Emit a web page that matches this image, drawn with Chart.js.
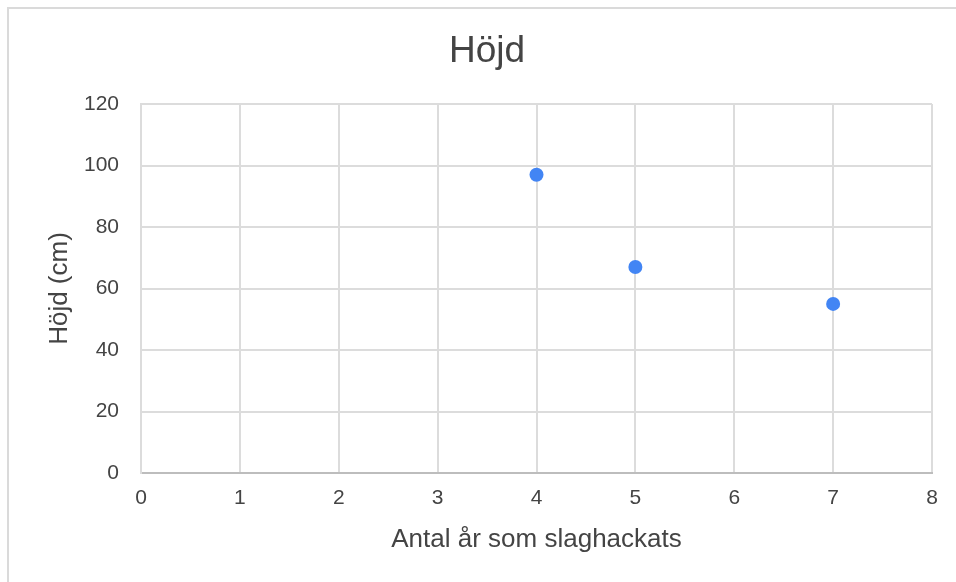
<!DOCTYPE html>
<html lang="sv">
<head>
<meta charset="utf-8">
<title>Höjd</title>
<script src="https://cdn.jsdelivr.net/npm/chart.js@4"></script>
<style>
  html, body { margin: 0; padding: 0; background: #fff; }
  #wrap { position: relative; width: 956px; height: 582px; overflow: hidden; }
  #frame {
    position: absolute; left: 7px; top: 7px; right: -10px; bottom: -10px;
    border-left: 2px solid #dadada; border-top: 2px solid #dadada;
  }
  #c { position: absolute; left: 0; top: 0; }
</style>
</head>
<body>
<div id="wrap">
  <div id="frame"></div>
  <canvas id="c" width="956" height="582"></canvas>
</div>
<script>
// Years of scything vs. plant height
const chartTitle = 'Höjd';
const xAxisTitle = 'Antal år som slaghackats';
const yAxisTitle = 'Höjd (cm)';
const yearsCut = [4, 5, 7];
const heightCm = [97, 67, 55];
const xTickLimits = [0, 8, 1];     // min, max, step
const yTickLimits = [0, 120, 20];  // min, max, step

const points = yearsCut.map((x, i) => ({ x: x, y: heightCm[i] }));

const FONT = "'Liberation Sans', Arial, sans-serif";
const TEXT = '#444444';
const GRID = '#dcdcdc';

new Chart(document.getElementById('c'), {
  type: 'scatter',
  data: {
    datasets: [{
      label: yAxisTitle,
      data: points,
      backgroundColor: '#4285f4',
      borderColor: '#4285f4',
      pointRadius: 7,
      pointHoverRadius: 7,
      borderWidth: 0
    }]
  },
  options: {
    responsive: false,
    animation: false,
    layout: { padding: { left: 42, right: 24, top: 0, bottom: 0 } },
    plugins: {
      legend: { display: false },
      tooltip: { enabled: false },
      title: {
        display: true,
        text: chartTitle,
        color: TEXT,
        font: { family: FONT, size: 37, weight: 'normal' },
        padding: { top: 30, bottom: 29.6 }
      }
    },
    scales: {
      x: {
        type: 'linear',
        min: xTickLimits[0],
        max: xTickLimits[1],
        ticks: {
          stepSize: xTickLimits[2],
          color: TEXT,
          padding: 13,
          font: { family: FONT, size: 21 }
        },
        grid: { color: GRID, lineWidth: 2, drawTicks: false },
        border: { color: '#bdbdbd', width: 2 },
        title: {
          display: true,
          text: xAxisTitle,
          color: TEXT,
          font: { family: FONT, size: 26 },
          padding: { top: 0, bottom: 26.4 }
        },
        afterFit: (scale) => { scale.height = 109; }
      },
      y: {
        min: yTickLimits[0],
        max: yTickLimits[1],
        ticks: {
          stepSize: yTickLimits[2],
          color: TEXT,
          padding: 22,
          font: { family: FONT, size: 21 }
        },
        grid: { color: GRID, lineWidth: 2, drawTicks: false },
        border: { color: GRID, width: 2 },
        title: {
          display: true,
          text: yAxisTitle,
          color: TEXT,
          font: { family: FONT, size: 26 },
          padding: { top: 2.4, bottom: 0 }
        },
        afterFit: (scale) => { scale.width = 99; }
      }
    }
  }
});
</script>
</body>
</html>
